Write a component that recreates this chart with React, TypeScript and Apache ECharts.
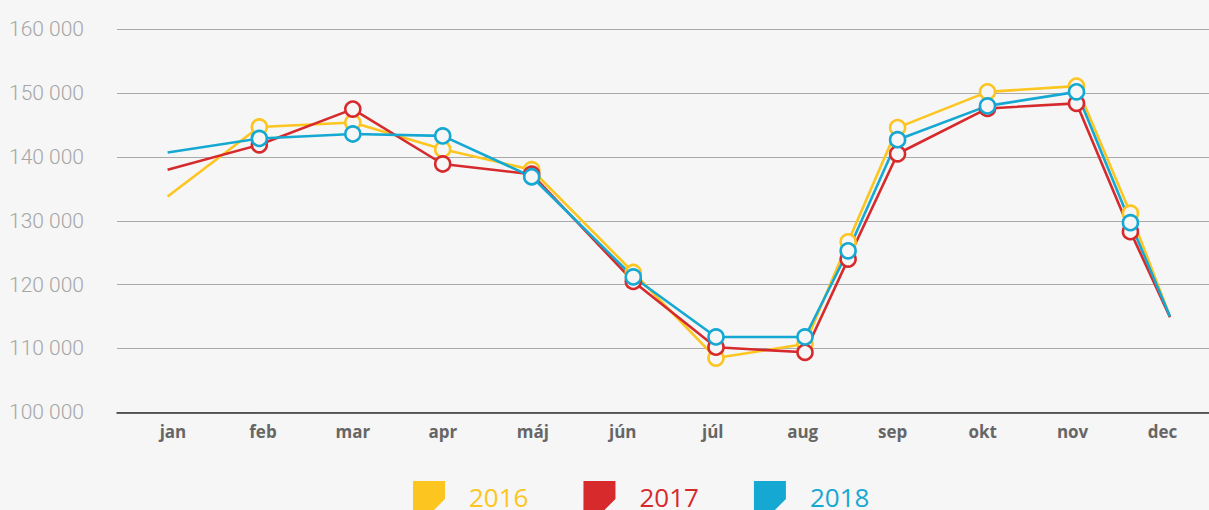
import React, { useEffect, useRef } from "react";
import * as echarts from "echarts";

const months = ["jan", "feb", "mar", "apr", "máj", "jún", "júl", "aug", "sep", "okt", "nov", "dec"];
// positions of the measured points along the month axis (jan = 0)
const pointPositions = [-0.06, 0.96, 2.0, 3.0, 3.99, 5.12, 6.04, 7.03, 7.51, 8.06, 9.06, 10.05, 10.65, 11.09];
const values2016 = [133800, 144700, 145400, 141200, 138000, 121900, 108500, 110700, 126700, 144600, 150200, 151100, 131200, 115000];
const values2017 = [138000, 141900, 147500, 138900, 137300, 120500, 110200, 109400, 124000, 140500, 147600, 148400, 128300, 114900];
const values2018 = [140700, 142900, 143600, 143300, 136900, 121200, 111800, 111800, 125300, 142700, 148000, 150200, 129700, 115000];
const seriesNames = ["2016", "2017", "2018"];
const seriesColors = ["#fdc51f", "#d62a2d", "#15a8d3"];
const yMin = 100000;
const yMax = 160000;
const yInterval = 10000;

const BG = "#f5f6f5";
const LEGEND_ICON = "path://M0,0 L32,0 L32,18 L18,32 L0,32 Z";

function buildData(vals: number[]) {
  return vals.map((v, i) => {
    const item: any = { value: [pointPositions[i], v] };
    if (i === 0 || i === vals.length - 1) item.symbol = "none";
    return item;
  });
}

export default function App() {
  const ref = useRef<HTMLDivElement>(null);
  useEffect(() => {
    if (!ref.current) return;
    const chart = echarts.init(ref.current, null, { renderer: "svg" });
    const allValues = [values2016, values2017, values2018];
    chart.setOption({
      animation: false,
      backgroundColor: BG,
      grid: [
        { left: 117, right: 0, top: 29.3, bottom: 97.7 },
        { left: 128, right: 1.5, top: 29.3, bottom: 97.7 },
      ],
      xAxis: [
        {
          type: "value",
          gridIndex: 0,
          min: -0.623,
          max: 11.524,
          axisLine: { show: true, onZero: false, lineStyle: { color: "#333", width: 1.5 } },
          axisTick: { show: false },
          axisLabel: { show: false },
          splitLine: { show: false },
        },
        {
          type: "category",
          gridIndex: 1,
          data: months,
          boundaryGap: true,
          axisLine: { show: false },
          axisTick: { show: false },
          axisLabel: {
            color: "#666",
            fontFamily: "Open Sans",
            fontWeight: "bold",
            fontSize: 17,
            margin: 11,
          },
        },
      ],
      yAxis: [
        {
          type: "value",
          gridIndex: 0,
          min: yMin,
          max: yMax,
          interval: yInterval,
          axisLine: { show: false },
          axisTick: { show: false },
          axisLabel: {
            color: "#a6a6a6",
            fontFamily: "Roboto",
            fontWeight: 300,
            fontSize: 21,
            margin: 33,
            padding: [0, 0, 10, 0],
            formatter: (v: number) => {
              const s = String(v);
              return s.slice(0, s.length - 3) + " " + s.slice(-3);
            },
          },
          splitLine: { show: true, lineStyle: { color: "#aaaaaa", width: 1.2 } },
        },
        {
          type: "value",
          gridIndex: 1,
          min: yMin,
          max: yMax,
          show: false,
        },
      ],
      legend: {
        left: 408,
        top: 476,
        itemWidth: 32,
        itemHeight: 32,
        itemGap: 55,
        icon: LEGEND_ICON,
        textStyle: { fontFamily: "Open Sans", fontSize: 26, padding: [0, 0, 0, 19] },
        data: seriesNames.map((n, i) => ({
          name: n,
          itemStyle: { color: seriesColors[i], borderWidth: 0 },
          textStyle: { color: seriesColors[i] },
        })),
      },
      series: seriesNames.map((n, i) => ({
        name: n,
        type: "line",
        xAxisIndex: 0,
        yAxisIndex: 0,
        data: buildData(allValues[i]),
        symbol: "circle",
        symbolSize: 15,
        lineStyle: { color: seriesColors[i], width: 2.6 },
        itemStyle: { color: BG, borderColor: seriesColors[i], borderWidth: 2.6 },
        emphasis: { disabled: true },
      })),
    });
    return () => chart.dispose();
  }, []);
  return (
    <div
      ref={ref}
      style={{ position: "fixed", left: 0, top: 0, width: 1209, height: 510, background: BG }}
    />
  );
}
